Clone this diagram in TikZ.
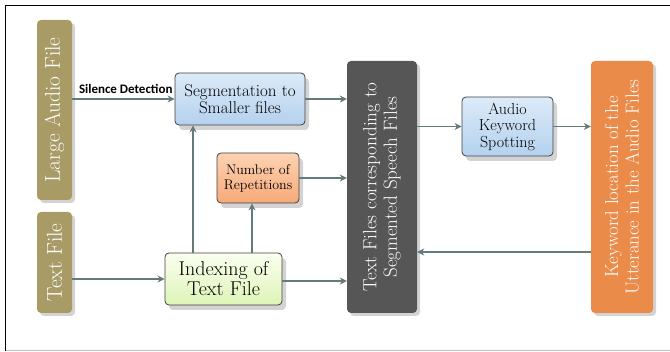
\documentclass[tikz,border=0pt]{standalone}
\usepackage{fontspec}
\newfontfamily\labelfont{Carlito}
\usetikzlibrary{arrows.meta,shadows}
\definecolor{olive}{HTML}{A99B66}
\definecolor{darkbox}{HTML}{565656}
\definecolor{orangebox}{HTML}{EB8B4A}
\definecolor{arrowcol}{HTML}{637B7B}
\definecolor{bluetop}{HTML}{DCEBF8}
\definecolor{bluebot}{HTML}{B4D1EE}
\definecolor{salmontop}{HTML}{FDD3B4}
\definecolor{salmonbot}{HTML}{F6A977}
\definecolor{greentop}{HTML}{FBFFF0}
\definecolor{greenbot}{HTML}{DDF4B6}
\begin{document}
\begin{tikzpicture}[x=1pt,y=-1pt,
		vbox/.style={rotate=90,rounded corners=4pt,draw=none,text=white,align=center,inner sep=0pt,
			drop shadow={shadow xshift=3pt,shadow yshift=-3pt,opacity=.35}},
		hbox/.style={rounded corners=4pt,draw=black!75,line width=.8pt,align=center,inner sep=0pt,
			drop shadow={shadow xshift=4pt,shadow yshift=-5pt,opacity=.35}},
		flow/.style={draw=arrowcol,line width=1.6pt,-{Stealth[length=7pt,width=7pt]}}]
	\useasboundingbox (0,0) rectangle (670,352);
	\draw[line width=1.3pt] (5.5,351) -- (5.5,5.5) -- (670,5.5);
	\draw[black!25,line width=1pt] (5.5,350.5) -- (670,350.5);

	% input files
	\node[vbox,fill=olive,minimum width=180pt,minimum height=35pt,font=\fontsize{21.5}{23}\selectfont] (audio) at (54.5,110) {Large Audio File};
	\node[vbox,fill=olive,minimum width=101pt,minimum height=35pt,font=\fontsize{21.5}{23}\selectfont] (textf) at (54.5,262.5) {Text File};

	% processing
	\node[hbox,top color=bluetop,bottom color=bluebot,minimum width=130pt,minimum height=52pt,font=\fontsize{17}{17.5}\selectfont] (seg) at (240,99) {Segmentation to\\Smaller files};
	\node[hbox,top color=salmontop,bottom color=salmonbot,minimum width=82pt,minimum height=50pt,font=\fontsize{14}{15}\selectfont] (rep) at (258,178) {Number of\\Repetitions};
	\node[hbox,top color=greentop,bottom color=greenbot,minimum width=117pt,minimum height=52pt,font=\fontsize{20}{20}\selectfont] (idx) at (223.5,279) {Indexing of\\Text File};
	\node[vbox,fill=darkbox,minimum width=252pt,minimum height=70pt,font=\fontsize{19}{20.5}\selectfont] (txt) at (382,187) {Text Files corresponding to\\Segmented Speech Files};
	\node[hbox,top color=bluetop,bottom color=bluebot,minimum width=91pt,minimum height=59pt,font=\fontsize{16}{16.5}\selectfont] (aks) at (507.5,126.5) {Audio\\Keyword\\Spotting};
	\node[vbox,fill=orangebox,minimum width=252pt,minimum height=62pt,font=\fontsize{18.8}{20.5}\selectfont] (kw) at (622,187) {Keyword location of the\\Utterance in the Audio Files};

	% connectors
	\draw[flow] (audio.south |- seg.west) -- node[pos=0,anchor=south west,xshift=5pt,yshift=4pt,font=\labelfont\bfseries\fontsize{13}{14}\selectfont,inner sep=1pt] (sil) {Silence Detection} (seg.west);
	\draw[flow] (textf.south |- idx.west) -- (idx.west);
	\draw[flow] ([xshift=-30.5pt]idx.north) -- ([xshift=-30.5pt]idx.north |- seg.south);
	\draw[flow] ([xshift=28.5pt]idx.north) -- ([xshift=28.5pt]idx.north |- rep.south);
	\draw[flow] (seg.east) -- (seg.east -| txt.north);
	\draw[flow] (rep.east) -- (rep.east -| txt.north);
	\draw[flow] ([yshift=-2pt]idx.east) -- ([yshift=-2pt]idx.east -| txt.north);
	\draw[flow] (txt.south |- aks.west) -- (aks.west);
	\draw[flow] (aks.east) -- (aks.east -| kw.north);
	\draw[flow] ([yshift=-65pt]kw.north) -- ([yshift=-65pt]kw.north -| txt.south);
\end{tikzpicture}
\end{document}
